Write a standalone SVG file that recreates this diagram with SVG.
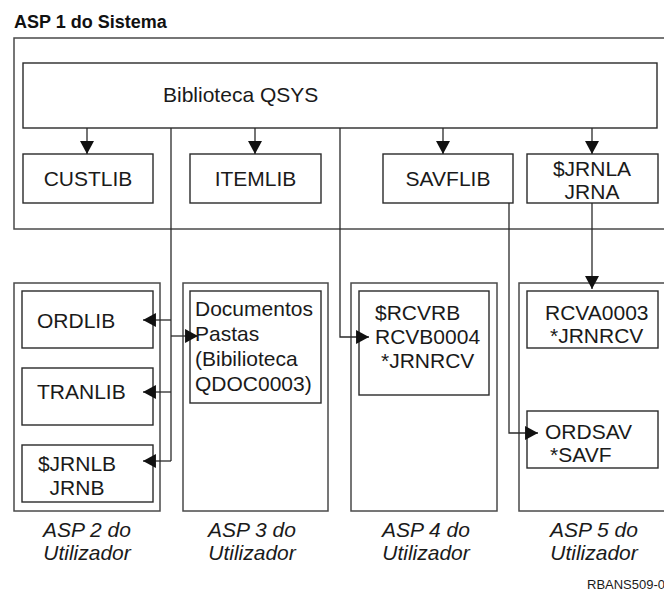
<svg xmlns="http://www.w3.org/2000/svg" width="664" height="592" viewBox="0 0 664 592">
  <defs>
    <style>
      .pool { fill: #ffffff; stroke: #4a4a4a; stroke-width: 1.5; }
      .box { fill: #ffffff; stroke: #2a2a2a; stroke-width: 1.4; }
      .lbl { font-family: "Liberation Sans", Arial, sans-serif; font-size: 21px; fill: #1a1a1a; }
      .mid { text-anchor: middle; }
      .title { font-family: "Liberation Sans", Arial, sans-serif; font-size: 18px; font-weight: bold; fill: #111111; }
      .asp { font-family: "Liberation Sans", Arial, sans-serif; font-size: 21px; font-style: italic; fill: #1a1a1a; text-anchor: middle; }
      .ref { font-family: "Liberation Sans", Arial, sans-serif; font-size: 13px; fill: #1a1a1a; }
      .wire { fill: none; stroke: #2a2a2a; stroke-width: 1.3; }
    </style>
    <marker id="arrow" markerUnits="userSpaceOnUse" markerWidth="13" markerHeight="14" viewBox="0 0 12 13" refX="12" refY="6.5" orient="auto">
      <path d="M0,0 L12,6.5 L0,13 Z" fill="#111111"/>
    </marker>
  </defs>

  <!-- system pool -->
  <g id="asp1">
    <text class="title" x="14" y="28">ASP 1 do Sistema</text>
    <rect class="pool" x="14" y="38" width="660" height="191"/>
  </g>

  <g id="qsys">
    <rect class="box" x="23" y="63" width="634" height="65"/>
    <text class="lbl" x="163" y="102">Biblioteca QSYS</text>
  </g>
  <g id="custlib">
    <rect class="box" x="23" y="154" width="130" height="49"/>
    <text class="lbl mid" x="88" y="186">CUSTLIB</text>
  </g>
  <g id="itemlib">
    <rect class="box" x="190" y="154" width="131" height="49"/>
    <text class="lbl mid" x="255.5" y="186">ITEMLIB</text>
  </g>
  <g id="savflib">
    <rect class="box" x="383" y="154" width="130" height="49"/>
    <text class="lbl mid" x="448" y="186">SAVFLIB</text>
  </g>
  <g id="jrnla">
    <rect class="box" x="527" y="154" width="131" height="49"/>
    <text class="lbl mid" x="592" y="176">$JRNLA</text>
    <text class="lbl mid" x="592" y="199">JRNA</text>
  </g>

  <!-- user pools -->
  <g id="asp2">
    <rect class="pool" x="14" y="283" width="146" height="228"/>
    <text class="asp" x="87" y="537">ASP 2 do</text>
    <text class="asp" x="87" y="560">Utilizador</text>
  </g>
  <g id="ordlib">
    <rect class="box" x="22" y="291" width="131" height="57"/>
    <text class="lbl" x="37" y="328">ORDLIB</text>
  </g>
  <g id="tranlib">
    <rect class="box" x="22" y="368" width="131" height="57"/>
    <text class="lbl" x="37" y="399">TRANLIB</text>
  </g>
  <g id="jrnlb">
    <rect class="box" x="22" y="445" width="131" height="57"/>
    <text class="lbl mid" x="77" y="471">$JRNLB</text>
    <text class="lbl mid" x="77" y="495">JRNB</text>
  </g>

  <g id="asp3">
    <rect class="pool" x="183" y="283" width="145" height="228"/>
    <text class="asp" x="252" y="537">ASP 3 do</text>
    <text class="asp" x="252" y="560">Utilizador</text>
  </g>
  <g id="qdoc">
    <rect class="box" x="190" y="291" width="131" height="112"/>
    <text class="lbl" x="195" y="316">Documentos</text>
    <text class="lbl" x="195" y="341">Pastas</text>
    <text class="lbl" x="195" y="366">(Bibilioteca</text>
    <text class="lbl" x="195" y="391">QDOC0003)</text>
  </g>

  <g id="asp4">
    <rect class="pool" x="351" y="283" width="146" height="228"/>
    <text class="asp" x="426" y="537">ASP 4 do</text>
    <text class="asp" x="426" y="560">Utilizador</text>
  </g>
  <g id="rcvrb">
    <rect class="box" x="359" y="291" width="130" height="104"/>
    <text class="lbl" x="375" y="320">$RCVRB</text>
    <text class="lbl" x="375" y="344">RCVB0004</text>
    <text class="lbl" x="381" y="368">*JRNRCV</text>
  </g>

  <g id="asp5">
    <rect class="pool" x="519" y="283" width="150" height="228"/>
    <text class="asp" x="594" y="537">ASP 5 do</text>
    <text class="asp" x="594" y="560">Utilizador</text>
  </g>
  <g id="rcva">
    <rect class="box" x="527" y="291" width="131" height="57"/>
    <text class="lbl" x="545" y="320">RCVA0003</text>
    <text class="lbl" x="550" y="343">*JRNRCV</text>
  </g>
  <g id="ordsav">
    <rect class="box" x="527" y="411" width="131" height="57"/>
    <text class="lbl" x="545" y="439">ORDSAV</text>
    <text class="lbl" x="550" y="462">*SAVF</text>
  </g>

  <!-- connectors -->
  <g id="connectors">
    <path class="wire" d="M87,128 V154" marker-end="url(#arrow)"/>
    <path class="wire" d="M255,128 V154" marker-end="url(#arrow)"/>
    <path class="wire" d="M443,128 V154" marker-end="url(#arrow)"/>
    <path class="wire" d="M592,128 V154" marker-end="url(#arrow)"/>

    <path class="wire" d="M171,128 V461"/>
    <path class="wire" d="M171,320 H143" marker-end="url(#arrow)"/>
    <path class="wire" d="M171,336 H198" marker-end="url(#arrow)"/>
    <path class="wire" d="M171,392 H143" marker-end="url(#arrow)"/>
    <path class="wire" d="M171,461 H143" marker-end="url(#arrow)"/>

    <path class="wire" d="M340,128 V337 H369" marker-end="url(#arrow)"/>
    <path class="wire" d="M509,203 V433 H538" marker-end="url(#arrow)"/>
    <path class="wire" d="M592,203 V289" marker-end="url(#arrow)"/>
  </g>

  <text class="ref" x="587" y="589">RBANS509-0</text>
</svg>
